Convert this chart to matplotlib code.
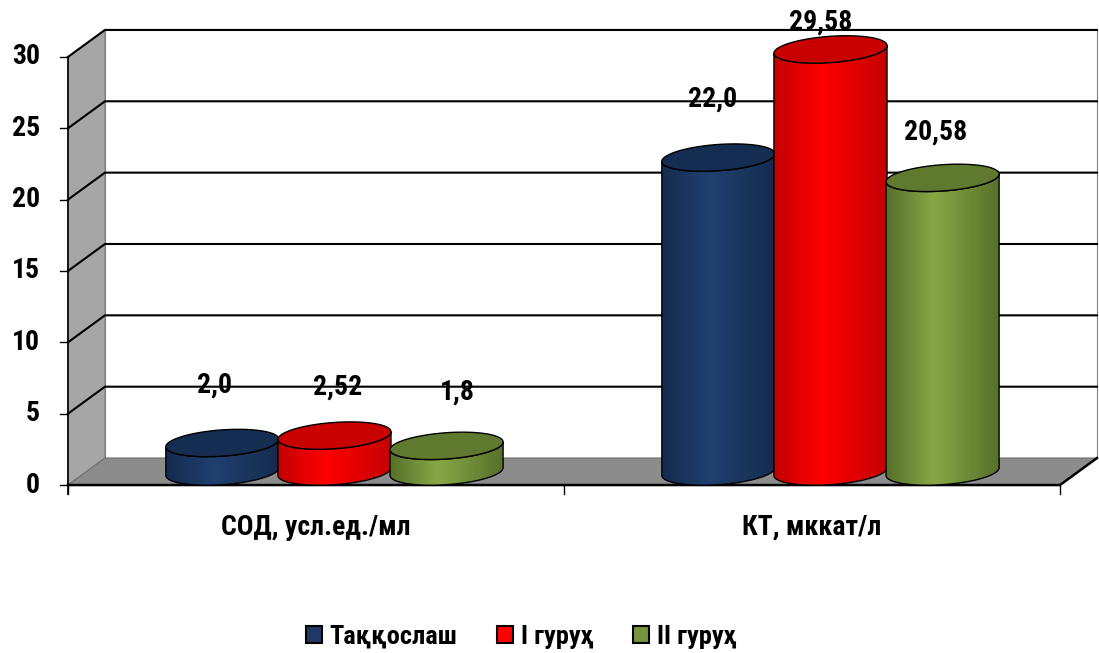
import numpy as np
import matplotlib as mpl
mpl.use('agg')
import matplotlib.pyplot as plt
from matplotlib.patches import Polygon, Patch
from matplotlib.colors import LinearSegmentedColormap

##--##--  data  --##--##
categories = ['СОД, усл.ед./мл', 'КТ, мккат/л']
series_names = ['Таққослаш', 'I гуруҳ', 'II гуруҳ']
vals_compare = [2.0, 22.0]
vals_group1 = [2.52, 29.58]
vals_group2 = [1.8, 20.58]
lab_compare = ['2,0', '22,0']
lab_group1 = ['2,52', '29,58']
lab_group2 = ['1,8', '20,58']
yticks = [0, 5, 10, 15, 20, 25, 30]

plt.rcParams['font.family'] = ['Roboto Condensed', 'PT Sans Narrow', 'Liberation Sans', 'DejaVu Sans']
plt.rcParams['font.weight'] = 'bold'

## colours: (edge, light, top, legend)
styles = [('#142b4e', '#21406f', '#162d52', '#1f3864'),
          ('#c40000', '#ff0000', '#c80000', '#ff0000'),
          ('#566f2a', '#88a846', '#5f7a2f', '#77933c')]
## label shifts in points (dx, dy) from top of each cylinder
label_shift = [[(-6, 42), (-4, 42)],
               [(2, 35), (-7, 20)],
               [(8, 39), (-5, 33)]]

fig = plt.figure(figsize=(10.99, 6.53), dpi=100)
ax = fig.add_axes([0, 0, 1, 1])

DX, DY = 0.0746, 1.892     # depth offset (category units, value units)
x0, x1, ymax = -0.5, 1.5, 30

# walls and floor
ax.add_patch(Polygon([(x0, 0), (x0+DX, DY), (x0+DX, ymax+DY), (x0, ymax)], fc='#a6a6a6', ec='#808080', lw=0.8, zorder=1))
ax.add_patch(Polygon([(x0+DX, DY), (x1+DX, DY), (x1+DX, ymax+DY), (x0+DX, ymax+DY)], fc='white', ec='#808080', lw=0.8, zorder=1))
ax.add_patch(Polygon([(x0, 0), (x0+DX, DY), (x1+DX, DY), (x1, 0)], fc='#8c8c8c', ec='#707070', lw=0.8, zorder=1))
for v in yticks[1:]:
  ax.plot([x0, x0+DX, x1+DX], [v, v+DY, v+DY], color='black', lw=1.5, zorder=2)
ax.plot([x0, x1, x1+DX], [0, 0, DY], color='black', lw=1.8, zorder=2)

# y axis
ax.plot([x0, x0], [-0.6, ymax], color='black', lw=1.2, zorder=2)
for v in yticks:
  ax.plot([x0-0.016, x0], [v, v], color='black', lw=1.0, zorder=2)
  ax.text(x0-0.056, v, str(v), ha='right', va='center', fontsize=20, fontweight='bold')

# category ticks / labels
for xc in [x0, 0.5, x1]:
  ax.plot([xc, xc], [0, -0.6], color='black', lw=1.0, zorder=2)
for i, c in enumerate(categories):
  ax.text(i, -2.95, c, ha='center', va='center', fontsize=20, fontweight='bold')

# cylinders
a, b, sh = 0.114, 0.92, 0.27
offsets = [-0.226, 0.0, 0.226]
all_vals = [vals_compare, vals_group1, vals_group2]
all_labs = [lab_compare, lab_group1, lab_group2]

def ell(cx, cy, t):
  return cx + a*np.cos(t), cy + b*np.sin(t) + sh*np.cos(t)

z = 3
for i in range(len(categories)):
  for s in range(3):
    v = all_vals[s][i]
    cx = i + offsets[s] + DX/2
    cy0, cy1 = DY/2, v + DY/2
    t_front = np.linspace(np.pi, 2*np.pi, 80)
    xt, yt = ell(cx, cy1, t_front)
    xb, yb = ell(cx, cy0, t_front[::-1])
    pts = np.column_stack([np.r_[xt, xb], np.r_[yt, yb]])
    edge, light, top, _ = styles[s]
    cmap = LinearSegmentedColormap.from_list('c%d' % s, [(0, edge), (0.42, light), (1, edge)])
    body = Polygon(pts, fc='none', ec='none', transform=ax.transData, zorder=z)
    ax.add_patch(body)
    im = ax.imshow(np.linspace(0, 1, 256)[None, :], extent=[cx-a, cx+a, cy0-b-0.6, cy1+b+0.6],
                   aspect='auto', cmap=cmap, zorder=z, interpolation='bilinear')
    im.set_clip_path(body)
    ax.add_patch(Polygon(pts, fc='none', ec='black', lw=1.0, zorder=z+0.1))
    tt = np.linspace(0, 2*np.pi, 160)
    xe, ye = ell(cx, cy1, tt)
    ax.add_patch(Polygon(np.column_stack([xe, ye]), fc=top, ec='black', lw=1.0, zorder=z+0.2))
    dx, dy = label_shift[s][i]
    ax.annotate(all_labs[s][i], (cx, cy1), xytext=(dx, dy), textcoords='offset points',
                ha='center', va='center', fontsize=20, fontweight='bold', zorder=20)
    z += 1

ax.set_xlim(-0.637, 1.5787)
ax.set_ylim(-11.77, 33.99)
ax.axis('off')

handles = [Patch(fc=st[3], ec='black', lw=1.5) for st in styles]
fig.legend(handles, series_names, loc='center', bbox_to_anchor=(0.474, 1-637/653), ncol=3, frameon=False,
           fontsize=19, handlelength=0.6, handleheight=0.6, handletextpad=0.3, columnspacing=1.5)

fig.savefig('out.png', dpi=100)
